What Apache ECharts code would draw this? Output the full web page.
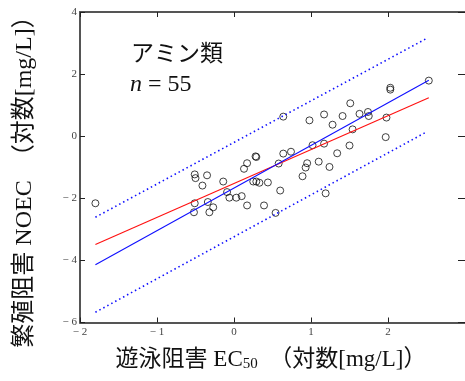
<!DOCTYPE html>
<html>
<head>
<meta charset="utf-8">
<script src="https://cdn.jsdelivr.net/npm/echarts@6/dist/echarts.min.js"></script>
<style>
html,body{margin:0;padding:0;background:#fff;}
#chart{width:465px;height:381px;}
</style>
</head>
<body>
<div id="chart"></div>
<script>
// ---- data ----
const xTicks = [-2, -1, 0, 1, 2, 3];
const yTicks = [-6, -4, -2, 0, 2, 4];
const pointsX = [-1.80, -0.51, -0.50, -0.35, -0.41, -0.14, -0.51, -0.52, -0.34, -0.32,
                 -0.27, -0.09, -0.06, 0.03, 0.10, 0.17, 0.13, 0.17, 0.25, 0.29,
                 0.33, 0.44, 0.39, 0.54, 0.60, 0.58, 0.64, 0.74, 0.95, 0.93,
                 1.10, 1.24, 0.89, 1.19, 1.02, 1.17, 1.50, 1.34, 0.64, 0.98,
                 1.17, 1.41, 1.51, 1.63, 1.74, 1.75, 1.28, 1.54, 2.03, 2.03,
                 2.53, 1.98, 1.97, 0.28, 0.29];
const pointsY = [-2.16, -1.23, -1.35, -1.26, -1.59, -1.46, -2.16, -2.45, -2.12, -2.45,
                 -2.29, -1.80, -1.98, -1.98, -1.93, -2.23, -1.05, -0.87, -1.46, -1.46,
                 -1.50, -1.49, -2.23, -2.47, -1.75, -0.88, -0.56, -0.50, -0.87, -1.01,
                 -0.82, -0.99, -1.29, -1.84, -0.29, -0.24, -0.30, -0.55, 0.63, 0.51,
                 0.70, 0.65, 1.06, 0.72, 0.78, 0.65, 0.37, 0.22, 1.56, 1.50,
                 1.79, 0.60, -0.03, -0.65, -0.67];
const fitX = [-1.80, 2.53];
const redFitY = [-3.49, 1.24];
const blueFitY = [-4.14, 1.80];
const bandX = [-1.80, 2.51];
const upperY = [-2.61, 3.16];
const lowerY = [-5.67, 0.15];
const labelGroup = 'アミン類';
const labelN = '55';

const pair = (xs, ys) => xs.map((x, i) => [x, ys[i]]);
const fmt = v => v < 0 ? '\u2212 ' + Math.abs(v) : String(v);
const serif = 'Liberation Serif, "Noto Sans CJK JP", serif';

const axisLine = {show: true, onZero: false, lineStyle: {color: '#555', width: 2}};
const axisTick = {show: true, inside: true, length: 5, lineStyle: {color: '#222', width: 1}};

const chart = echarts.init(document.getElementById('chart'));
chart.setOption({
  animation: false,
  backgroundColor: '#fff',
  grid: {left: 80, top: 12, right: -2, bottom: 58.5, containLabel: false},
  xAxis: [
    {type: 'value', min: xTicks[0], max: xTicks[xTicks.length - 1], interval: 1, position: 'bottom',
     axisLine, axisTick, splitLine: {show: false},
     axisLabel: {formatter: fmt, fontFamily: serif, fontSize: 11, color: '#444', margin: 4, showMaxLabel: false}},
    {type: 'value', min: xTicks[0], max: xTicks[xTicks.length - 1], interval: 1, position: 'top',
     axisLine, axisTick, splitLine: {show: false}, axisLabel: {show: false}}
  ],
  yAxis: [
    {type: 'value', min: yTicks[0], max: yTicks[yTicks.length - 1], interval: 2, position: 'left',
     axisLine, axisTick, splitLine: {show: false},
     axisLabel: {formatter: fmt, fontFamily: serif, fontSize: 11, color: '#444', margin: 3}},
    {type: 'value', min: yTicks[0], max: yTicks[yTicks.length - 1], interval: 2, position: 'right',
     axisLine: {show: false, onZero: false}, axisTick: {show: true, inside: true, length: 7, lineStyle: {color: '#222', width: 1}},
     splitLine: {show: false}, axisLabel: {show: false}}
  ],
  series: [
    {type: 'line', data: pair(bandX, upperY), symbol: 'none', silent: true,
     lineStyle: {color: '#1010ff', width: 1.6, type: [1.5, 3]}},
    {type: 'line', data: pair(bandX, lowerY), symbol: 'none', silent: true,
     lineStyle: {color: '#1010ff', width: 1.6, type: [1.5, 3]}},
    {type: 'line', data: pair(fitX, redFitY), symbol: 'none', silent: true,
     lineStyle: {color: '#ff1010', width: 1.1}},
    {type: 'line', data: pair(fitX, blueFitY), symbol: 'none', silent: true,
     lineStyle: {color: '#1010ff', width: 1.1}},
    {type: 'scatter', data: pair(pointsX, pointsY), symbol: 'circle', symbolSize: 7,
     itemStyle: {color: 'rgba(0,0,0,0)', borderColor: '#111', borderWidth: 1}}
  ],
  graphic: [
    {type: 'text', left: 131, top: 41,
     style: {text: labelGroup, font: '23px "Noto Sans CJK JP"', fill: '#111'}},
    {type: 'text', left: 130, top: 73,
     style: {text: '{i|n} = ' + labelN, fill: '#111', font: '24px "Liberation Serif"',
       rich: {i: {fontStyle: 'italic', fontFamily: 'Liberation Serif', fontSize: 24}}}},
    {type: 'text', x: 271, y: 360,
     style: {text: '{a|遊泳阻害 EC}{s|50}{a|\u3000（対数[mg/L]）}', fill: '#111', align: 'center', verticalAlign: 'middle',
       rich: {a: {fontFamily: serif, fontSize: 23, fill: '#111'}, s: {fontFamily: 'Liberation Serif', fontSize: 15, fill: '#111', padding: [9, 0, 0, 0]}}}},
    {type: 'text', x: 25, y: 176, rotation: Math.PI / 2,
     style: {text: '繁殖阻害 NOEC\u3000（対数[mg/L]）', font: '24px Liberation Serif, "Noto Sans CJK JP"', fill: '#111', align: 'center', verticalAlign: 'middle'}}
  ]
});
</script>
</body>
</html>
